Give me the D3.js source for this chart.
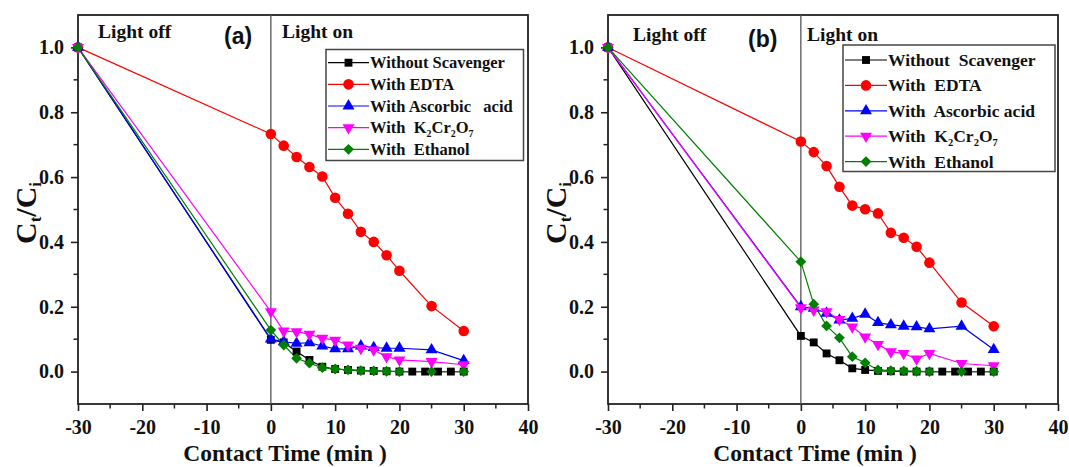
<!DOCTYPE html>
<html>
<head>
<meta charset="utf-8">
<script src="https://cdn.jsdelivr.net/npm/d3@7"></script>
<style>
  html, body { margin: 0; padding: 0; background: #fff; }
  svg { display: block; }
  text { font-family: "Liberation Serif", "Times New Roman", serif; font-weight: bold; fill: #111; }
</style>
</head>
<body>
<svg id="chart" width="1069" height="467"></svg>
<script>
// Sampling times (min); the dark phase runs from -30 to 0
const timeMain = [-30, 0, 2, 4, 6, 8, 10, 12, 14, 16, 18, 20, 25, 30];
const timeFine = [-30, 0, 2, 4, 6, 8, 10, 12, 14, 16, 18, 20, 22, 24, 26, 28, 30];

// Panel (a): Ct/Ci
const noScavA = [1, 0.098, 0.090, 0.062, 0.036, 0.015, 0.008, 0.005, 0.003, 0.002, 0.001, 0, 0, 0, 0, 0, 0];
const edtaA   = [1, 0.733, 0.697, 0.662, 0.631, 0.602, 0.536, 0.487, 0.431, 0.400, 0.359, 0.311, 0.202, 0.125];
const ascA    = [1, 0.100, 0.092, 0.087, 0.089, 0.079, 0.070, 0.070, 0.079, 0.074, 0.072, 0.072, 0.067, 0.034];
const k2A     = [1, 0.185, 0.125, 0.123, 0.115, 0.103, 0.097, 0.082, 0.072, 0.067, 0.046, 0.036, 0.031, 0.021];
const ethA    = [1, 0.128, 0.082, 0.041, 0.026, 0.012, 0.008, 0.005, 0.003, 0.002, 0.001, 0, 0, 0];

// Panel (b): Ct/Ci
const noScavB = [1, 0.110, 0.090, 0.056, 0.035, 0.010, 0.005, 0.002, 0.001, 0, 0, 0, 0, 0, 0, 0, 0];
const edtaB   = [1, 0.710, 0.677, 0.634, 0.570, 0.512, 0.501, 0.488, 0.428, 0.413, 0.385, 0.336, 0.213, 0.140];
const ascB    = [1, 0.200, 0.195, 0.180, 0.159, 0.164, 0.177, 0.151, 0.144, 0.140, 0.138, 0.132, 0.140, 0.068];
const k2B     = [1, 0.197, 0.190, 0.185, 0.161, 0.138, 0.107, 0.084, 0.061, 0.056, 0.039, 0.056, 0.025, 0.018];
const ethB    = [1, 0.339, 0.208, 0.141, 0.104, 0.046, 0.027, 0.005, 0.003, 0.002, 0.001, 0, 0, 0];

// Legend labels ("_n" marks a subscript digit)
const labelsA = ["Without Scavenger", "With EDTA", "With Ascorbic   acid", "With  K_2Cr_2O_7", "With  Ethanol"];
const labelsB = ["Without  Scavenger", "With  EDTA", "With  Ascorbic acid", "With  K_2Cr_2O_7", "With  Ethanol"];

const xTicks = [-30, -20, -10, 0, 10, 20, 30, 40];
const yTicks = [0.0, 0.2, 0.4, 0.6, 0.8, 1.0];

const colors = ["#000000", "#ff0000", "#0000ff", "#ff00ff", "#008000"];
const shapes = [
  { type: d3.symbolSquare,   size: 62, rot: 0 },
  { type: d3.symbolCircle,   size: 88, rot: 0 },
  { type: d3.symbolTriangle, size: 62, rot: 0 },
  { type: d3.symbolTriangle, size: 62, rot: 180 },
  { type: d3.symbolSquare,   size: 58, rot: 45 }
];

const svg = d3.select("#chart");

// writes a label, turning "_n" into a lowered small digit
function addLabel(sel, label, size) {
  const parts = label.split(/_(\d)/);
  parts.forEach((p, i) => {
    if (p === "") return;
    if (i % 2 === 1) {
      sel.append("tspan").attr("font-size", size * 0.6).attr("baseline-shift", "-35%").text(p);
    } else {
      sel.append("tspan").text(p);
    }
  });
}

function drawPanel(cfg) {
  const g = svg.append("g").attr("transform", `translate(${cfg.ox},0)`);
  const x = d3.scaleLinear().domain([-30, 40]).range([78, 528]);
  const y = d3.scaleLinear().domain([-0.1, 1.1]).range([404, 15]);

  // axes with outward ticks
  const xAxis = d3.axisBottom(x).tickValues(xTicks).tickSize(7).tickPadding(4).tickFormat(d => String(d));
  const yAxis = d3.axisLeft(y).tickValues(yTicks).tickSize(7).tickPadding(7).tickFormat(d => d.toFixed(1));

  const minorX = d3.range(-25, 40, 10);
  const minorY = [0.1, 0.3, 0.5, 0.7, 0.9];

  const gx = g.append("g").attr("transform", "translate(0,404)").call(xAxis);
  gx.selectAll("text").attr("font-size", 20).attr("dy", "0.95em").style("font-family", "Liberation Serif").style("font-weight", "bold").attr("fill", "#111");
  gx.select(".domain").remove();
  gx.selectAll(".tick line").attr("stroke", "#222").attr("stroke-width", 1.6);
  g.append("g").selectAll("line").data(minorX).join("line")
    .attr("x1", d => x(d)).attr("x2", d => x(d)).attr("y1", 404).attr("y2", 408.5)
    .attr("stroke", "#222").attr("stroke-width", 1.5);

  const gy = g.append("g").attr("transform", "translate(78,0)").call(yAxis);
  gy.selectAll("text").attr("font-size", 20).style("font-family", "Liberation Serif").style("font-weight", "bold").attr("fill", "#111");
  gy.select(".domain").remove();
  gy.selectAll(".tick line").attr("stroke", "#222").attr("stroke-width", 1.6);
  g.append("g").selectAll("line").data(minorY).join("line")
    .attr("y1", d => y(d)).attr("y2", d => y(d)).attr("x1", 78).attr("x2", 73.5)
    .attr("stroke", "#222").attr("stroke-width", 1.5);

  // frame
  g.append("rect").attr("x", 78).attr("y", 15).attr("width", 450).attr("height", 389)
    .attr("fill", "none").attr("stroke", "#222").attr("stroke-width", 1.8);

  // light-on divider
  g.append("line").attr("x1", x(0)).attr("x2", x(0)).attr("y1", 15).attr("y2", 404)
    .attr("stroke", "#555").attr("stroke-width", 1.3);

  // annotations
  g.append("text").attr("x", cfg.offX).attr("y", cfg.ty).attr("font-size", 19.5).text("Light off");
  g.append("text").attr("x", cfg.onX).attr("y", cfg.ty).attr("font-size", 19.5).text("Light on");
  g.append("text").attr("x", cfg.tagX).attr("y", cfg.ty + 6).attr("font-size", 23)
    .style("font-family", "'Liberation Sans', Arial, sans-serif").style("font-weight", "bold").text(cfg.tag);

  // axis titles
  g.append("text").attr("x", 285).attr("y", 461).attr("text-anchor", "middle").attr("font-size", 23.5)
    .style("white-space", "pre").text("Contact Time (min )");
  const yt = g.append("text").attr("transform", "translate(36,213) rotate(-90)").attr("text-anchor", "middle").attr("font-size", 30);
  yt.append("tspan").text("C");
  yt.append("tspan").attr("font-size", 17).attr("baseline-shift", "-30%").text("t");
  yt.append("tspan").text("/C");
  yt.append("tspan").attr("font-size", 17).attr("baseline-shift", "-30%").text("i");

  // series
  const line = d3.line().x(d => x(d[0])).y(d => y(d[1]));
  cfg.series.forEach((s, i) => {
    const pts = s.t.map((t, k) => [t, s.v[k]]);
    g.append("path").datum(pts).attr("d", line).attr("fill", "none")
      .attr("stroke", colors[i]).attr("stroke-width", 1.2);
  });
  cfg.series.forEach((s, i) => {
    const pts = s.t.map((t, k) => [t, s.v[k]]);
    const sym = d3.symbol().type(shapes[i].type).size(shapes[i].size);
    g.append("g").selectAll("path").data(pts).join("path")
      .attr("d", sym)
      .attr("transform", d => `translate(${x(d[0])},${y(d[1])}) rotate(${shapes[i].rot})`)
      .attr("fill", colors[i]);
  });

  // legend
  const L = cfg.legend;
  g.append("rect").attr("x", L.x).attr("y", L.y).attr("width", L.w).attr("height", L.h)
    .attr("fill", "#fff").attr("stroke", "#444").attr("stroke-width", 1.5);
  cfg.labels.forEach((lab, i) => {
    const cy = L.row0 + i * L.step;
    g.append("line").attr("x1", L.lx0).attr("x2", L.lx1).attr("y1", cy).attr("y2", cy)
      .attr("stroke", colors[i]).attr("stroke-width", 1.2);
    g.append("path").attr("d", d3.symbol().type(shapes[i].type).size(shapes[i].size))
      .attr("transform", `translate(${(L.lx0 + L.lx1) / 2},${cy}) rotate(${shapes[i].rot})`)
      .attr("fill", colors[i]);
    const t = g.append("text").attr("x", L.lx1 + 1).attr("y", cy + L.fs * 0.34)
      .attr("font-size", L.fs).style("white-space", "pre");
    addLabel(t, lab, L.fs);
  });
}

drawPanel({
  ox: 0, tag: "(a)", ty: 38, offX: 98, onX: 282, tagX: 224,
  labels: labelsA,
  series: [
    { t: timeFine, v: noScavA }, { t: timeMain, v: edtaA }, { t: timeMain, v: ascA },
    { t: timeMain, v: k2A }, { t: timeMain, v: ethA }
  ],
  legend: { x: 326, y: 49.5, w: 197.5, h: 111, row0: 62.7, step: 21.65, lx0: 328, lx1: 369, fs: 16.5 }
});

drawPanel({
  ox: 530, tag: "(b)", ty: 41, offX: 103, onX: 277, tagX: 218,
  labels: labelsB,
  series: [
    { t: timeFine, v: noScavB }, { t: timeMain, v: edtaB }, { t: timeMain, v: ascB },
    { t: timeMain, v: k2B }, { t: timeMain, v: ethB }
  ],
  legend: { x: 313, y: 45, w: 212, h: 126.5, row0: 60, step: 25.4, lx0: 315, lx1: 357, fs: 17.5 }
});
</script>
</body>
</html>
